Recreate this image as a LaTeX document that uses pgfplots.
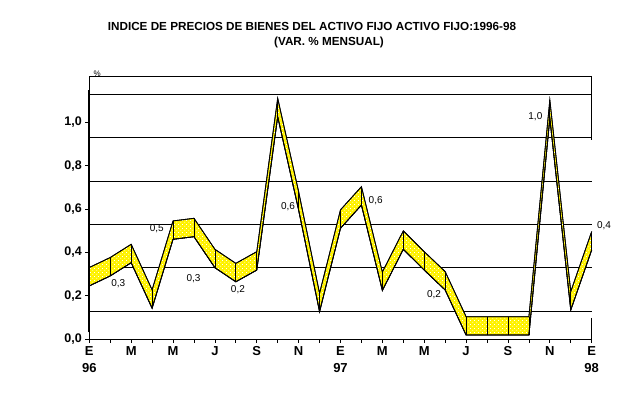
\documentclass[border=0pt]{standalone}
\usepackage{fontspec}
\setmainfont{Liberation Sans}
\usepackage{pgfplots}
\usepackage{pgfplotstable}
\pgfplotsset{compat=1.18}
\usepgfplotslibrary{fillbetween}
\usetikzlibrary{patterns}
\pgfdeclarepatternformonly{ydots}{\pgfqpoint{0pt}{0pt}}{\pgfqpoint{4pt}{4pt}}{\pgfqpoint{4pt}{4pt}}{%
 \pgfpathrectangle{\pgfqpoint{0.5pt}{0.5pt}}{\pgfqpoint{1pt}{1pt}}%
 \pgfpathrectangle{\pgfqpoint{2.5pt}{2.5pt}}{\pgfqpoint{1pt}{1pt}}%
 \pgfusepath{fill}}
\pgfplotstableread{
x b t d
0 0.245 0.330 0.085
1 0.291 0.376 0.085
2 0.352 0.437 0.085
3 0.142 0.227 0.085
4 0.460 0.545 0.085
5 0.472 0.557 0.085
6 0.329 0.414 0.085
7 0.264 0.349 0.085
8 0.318 0.403 0.085
9 1.026 1.111 0.085
10 0.595 0.680 0.085
11 0.126 0.211 0.085
12 0.511 0.596 0.085
13 0.618 0.703 0.085
14 0.224 0.309 0.085
15 0.414 0.499 0.085
16 0.318 0.403 0.085
17 0.226 0.311 0.085
18 0.018 0.103 0.085
19 0.018 0.103 0.085
20 0.018 0.103 0.085
21 0.018 0.103 0.085
22 1.018 1.103 0.085
23 0.134 0.219 0.085
24 0.411 0.496 0.085
}\data
\begin{document}
\begin{tikzpicture}
\node[font=\bfseries\fontsize{11.7}{13}\selectfont, anchor=base, inner sep=0pt] at (312pt,368.3pt) {INDICE DE PRECIOS DE BIENES DEL ACTIVO FIJO ACTIVO FIJO:1996-98};
\node[font=\bfseries\fontsize{11.7}{13}\selectfont, anchor=base, inner sep=0pt] at (329pt,353pt) {(VAR. \% MENSUAL)};
\begin{axis}[
  at={(89.3pt,60pt)}, anchor=south west,
  scale only axis, width=502.4pt, height=263pt,
  xmin=0, xmax=24, ymin=0, ymax=1.2137,
  axis lines=left, axis line style={-, line width=0.8pt, black},
  clip=false,
  tick align=outside, major tick length=4pt,
  tick style={black, line width=0.8pt},
  xtick={0,...,24},
  xticklabels={{E\\96},,M,,M,,J,,S,,N,,{E\\97},,M,,M,,J,,S,,N,,{E\\98}},
  xticklabel style={font=\bfseries\fontsize{13}{16.7}\selectfont, align=center},
  ytick={0,0.2,0.4,0.6,0.8,1.0},
  yticklabel style={font=\bfseries\fontsize{12.5}{13}\selectfont,
    /pgf/number format/.cd, fixed, fixed zerofill, precision=1, use comma, assume math mode=true},
  extra y ticks={0.129,0.329,0.529,0.729,0.929,1.129,1.2137},
  extra y tick labels={},
  extra y tick style={grid=major, major tick length=0pt, grid style={black, line width=0.8pt}},
]
\addplot[name path=B, black, line width=0.8pt, mark=none] table[x=x,y=b]{\data};
\addplot[name path=T, black, line width=0.8pt, mark=none] table[x=x,y=t]{\data};
\addplot[fill=yellow, draw=none] fill between[of=T and B];
\addplot[pattern=ydots, pattern color=white, draw=none] fill between[of=T and B];
\addplot[black, line width=0.8pt, mark=none] table[x=x,y=b]{\data};
\addplot[black, line width=0.8pt, mark=none] table[x=x,y=t]{\data};
\addplot[black, line width=0.8pt, mark=none, error bars/.cd, y dir=plus, y explicit, error mark=none,
  error bar style={black, line width=0.8pt}] table[x=x,y=b,y error=d]{\data};
\draw[line width=0.8pt] (axis cs:24,1.2137) -- (axis cs:24,0.92);
\draw[line width=0.8pt] (axis cs:24,0.097) -- (axis cs:24,0);
\draw[line width=1.8pt] (axis cs:0,0.03) -- (axis cs:0,1.148);
\begin{scope}[every node/.style={font=\fontsize{10}{11}\selectfont, inner sep=0pt}]
\node at (axis cs:1.385,0.257) {0,3};
\node at (axis cs:3.22,0.511) {0,5};
\node at (axis cs:4.98,0.277) {0,3};
\node at (axis cs:7.10,0.228) {0,2};
\node at (axis cs:9.49,0.611) {0,6};
\node at (axis cs:13.68,0.637) {0,6};
\node at (axis cs:16.47,0.205) {0,2};
\node at (axis cs:21.31,1.024) {1,0};
\node at (axis cs:24.59,0.525) {0,4};
\node[font=\fontsize{8}{9}\selectfont] at (axis cs:0.38,1.225) {\%};
\end{scope}
\end{axis}
\pgfresetboundingbox
\useasboundingbox (0pt,0pt) rectangle (633pt,399pt);
\end{tikzpicture}
\end{document}
